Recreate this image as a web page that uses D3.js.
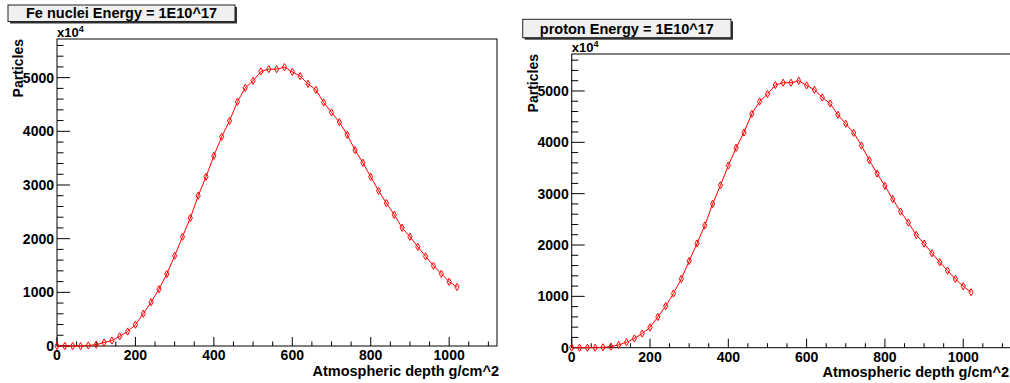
<!DOCTYPE html>
<html>
<head>
<meta charset="utf-8">
<script src="https://cdn.jsdelivr.net/npm/d3@7"></script>
<style>
  body { margin: 0; background: #fff; }
  svg { display: block; font-family: "Liberation Sans", Arial, Helvetica, sans-serif; font-weight: bold; }
</style>
</head>
<body>
<div id="chart"></div>
<script>
// depth in g/cm^2, one point every 20
const depth = [0, 20, 40, 60, 80, 100, 120, 140, 160, 180, 200, 220, 240, 260, 280, 300,
  320, 340, 360, 380, 400, 420, 440, 460, 480, 500, 520, 540, 560, 580, 600, 620, 640,
  660, 680, 700, 720, 740, 760, 780, 800, 820, 840, 860, 880, 900, 920, 940, 960, 980,
  1000, 1020];

// particle counts (units of 1e4)
const feNuclei = [0, 0, 0, 0, 10, 25, 65, 102, 180, 270, 397, 602, 816, 1058, 1341, 1680,
  2036, 2384, 2800, 3153, 3544, 3898, 4196, 4550, 4810, 4941, 5115, 5158, 5158, 5196,
  5108, 5028, 4885, 4773, 4538, 4352, 4171, 3935, 3650, 3413, 3153, 2892, 2663, 2445,
  2203, 2036, 1849, 1670, 1495, 1346, 1197, 1099];

const proton = [0, 0, 0, 0, 7, 20, 55, 105, 180, 275, 395, 598, 810, 1056, 1342, 1687,
  2030, 2380, 2800, 3163, 3548, 3893, 4191, 4556, 4795, 4940, 5115, 5160, 5160, 5199,
  5108, 5023, 4873, 4756, 4536, 4361, 4185, 3938, 3653, 3392, 3152, 2893, 2651, 2437,
  2197, 2027, 1840, 1665, 1501, 1339, 1197, 1080];

const xTicks = [0, 200, 400, 600, 800, 1000];
const yTicks = [0, 1000, 2000, 3000, 4000, 5000];

const width = 1010, height = 383;
const xMax = 1122, yMax = 5720;
const red = "#ff0000";

const svg = d3.select("#chart").append("svg")
  .attr("width", width)
  .attr("height", height);

const panels = [
  { title: "Fe nuclei Energy = 1E10^17", values: feNuclei,
    frame: { x0: 57, x1: 497, y0: 39, y1: 346 },
    box: { x: 8, y: 5, w: 227, h: 16.5 }, ylab: 23, xlabEnd: 499 },
  { title: "proton Energy = 1E10^17", values: proton,
    frame: { x0: 571.7, x1: 1011, y0: 54, y1: 347.7 },
    box: { x: 522.7, y: 19.3, w: 208.3, h: 18.4 }, ylab: 538, xlabEnd: 1009 }
];

panels.forEach(p => {
  const f = p.frame;
  const x = d3.scaleLinear().domain([0, xMax]).range([f.x0, f.x1]);
  const y = d3.scaleLinear().domain([0, yMax]).range([f.y1, f.y0]);
  const g = svg.append("g");

  // frame
  g.append("rect")
    .attr("x", f.x0).attr("y", f.y0)
    .attr("width", f.x1 - f.x0).attr("height", f.y1 - f.y0)
    .attr("fill", "none").attr("stroke", "#000").attr("stroke-width", 1);

  // x ticks: major every 200, minor every 50
  const xMinor = d3.range(50, xMax, 50).filter(v => v % 200 !== 0);
  g.selectAll(".xmaj").data(xTicks).join("line")
    .attr("x1", d => x(d)).attr("x2", d => x(d))
    .attr("y1", f.y1).attr("y2", f.y1 - 9)
    .attr("stroke", "#000");
  g.selectAll(".xmin").data(xMinor).join("line")
    .attr("x1", d => x(d)).attr("x2", d => x(d))
    .attr("y1", f.y1).attr("y2", f.y1 - 4.5)
    .attr("stroke", "#000");
  g.selectAll(".xlab").data(xTicks).join("text")
    .attr("x", d => x(d)).attr("y", f.y1 + 14)
    .attr("text-anchor", "middle").attr("font-size", 14)
    .text(d => d);

  // y ticks: major every 1000, minor every 200
  const yMinor = d3.range(200, yMax, 200).filter(v => v % 1000 !== 0);
  g.selectAll(".ymaj").data(yTicks).join("line")
    .attr("x1", f.x0).attr("x2", f.x0 + 13)
    .attr("y1", d => y(d)).attr("y2", d => y(d))
    .attr("stroke", "#000");
  g.selectAll(".ymin").data(yMinor).join("line")
    .attr("x1", f.x0).attr("x2", f.x0 + 6.5)
    .attr("y1", d => y(d)).attr("y2", d => y(d))
    .attr("stroke", "#000");
  g.selectAll(".ylab").data(yTicks).join("text")
    .attr("x", f.x0 - 3).attr("y", d => y(d))
    .attr("dy", "0.36em")
    .attr("text-anchor", "end").attr("font-size", 14)
    .text(d => d);

  // exponent label
  const ex = g.append("text")
    .attr("x", f.x0).attr("y", f.y0 - 2.5)
    .attr("font-size", 13);
  ex.append("tspan").text("x10");
  ex.append("tspan").attr("dy", -5).attr("font-size", 9).text("4");

  // axis titles
  g.append("text")
    .attr("transform", `translate(${p.ylab},${f.y0}) rotate(-90)`)
    .attr("text-anchor", "end").attr("font-size", 14)
    .text("Particles");
  g.append("text")
    .attr("x", p.xlabEnd).attr("y", f.y1 + 29.5)
    .attr("text-anchor", "end").attr("font-size", 14.5)
    .text("Atmospheric depth g/cm^2");

  // data line + open diamonds
  const pts = depth.map((d, i) => [d, p.values[i]]);
  g.append("path")
    .datum(pts)
    .attr("fill", "none").attr("stroke", red).attr("stroke-width", 1)
    .attr("d", d3.line().x(d => x(d[0])).y(d => y(d[1])));
  g.selectAll(".mk").data(pts).join("path")
    .attr("transform", d => `translate(${x(d[0])},${y(d[1])})`)
    .attr("d", d3.symbol(d3.symbolDiamond, 15)())
    .attr("fill", "none").attr("stroke", red).attr("stroke-width", 1);

  // title box with shadow
  const b = p.box;
  g.append("rect")
    .attr("x", b.x + 2).attr("y", b.y + 2).attr("width", b.w).attr("height", b.h)
    .attr("fill", "#333");
  g.append("rect")
    .attr("x", b.x).attr("y", b.y).attr("width", b.w).attr("height", b.h)
    .attr("fill", "#f0f0f0").attr("stroke", "#222").attr("stroke-width", 1);
  g.append("text")
    .attr("x", b.x + b.w / 2).attr("y", b.y + b.h / 2)
    .attr("dy", "0.36em").attr("text-anchor", "middle").attr("font-size", 14.5)
    .text(p.title);
});
</script>
</body>
</html>
